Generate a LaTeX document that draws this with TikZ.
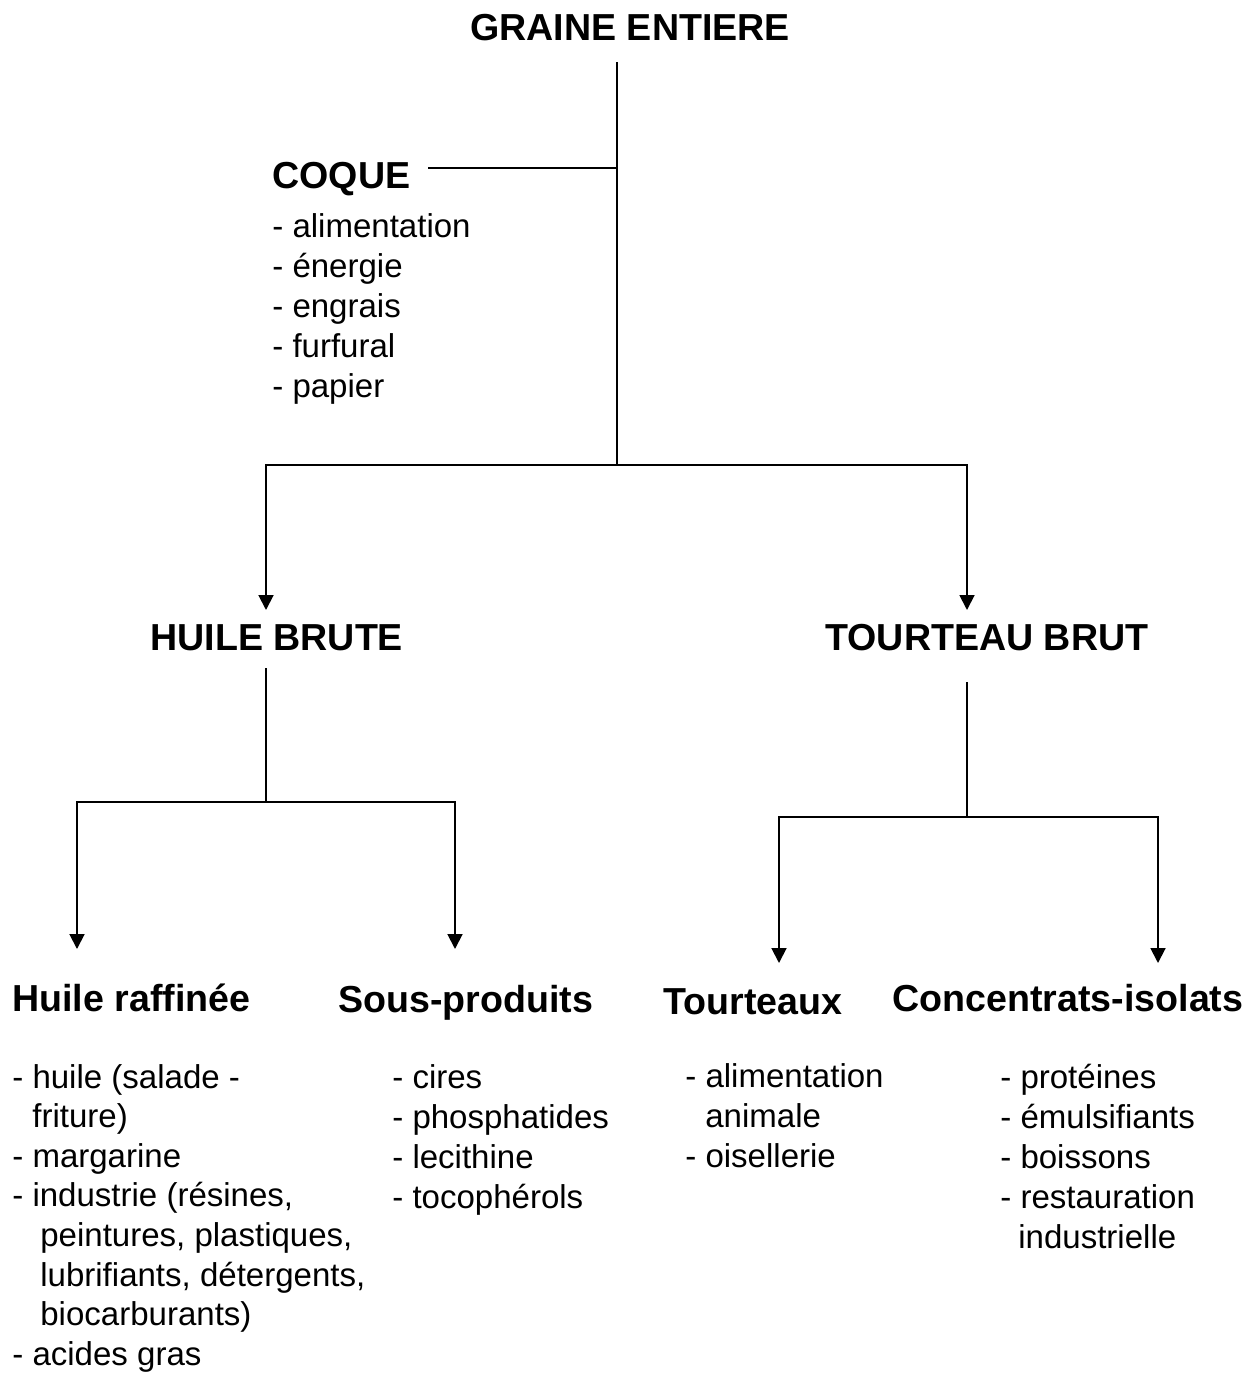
\documentclass[tikz,border=0pt]{standalone}
\usepackage{fontspec}
\setmainfont{Liberation Sans}
\usetikzlibrary{arrows.meta}

\begin{document}
\begin{tikzpicture}[x=0.02cm,y=-0.02cm,
	conn/.style={line width=1.1pt},
	arr/.style={conn,-{Triangle[length=8.5pt,width=8.5pt]}},
	head/.style={font=\fontsize{21.4}{25}\selectfont\bfseries,inner sep=0,anchor=base west},
	item/.style={font=\fontsize{18.8}{22.7}\selectfont,inner sep=0,anchor=base west}]
	\useasboundingbox (0,0) rectangle (1259,1373);
	% titres
	\node[head] (graine) at (470,40) {GRAINE ENTIERE};
	\node[head] (coque) at (272,188) {COQUE};
	\node[head] (hbrute) at (150,650) {HUILE BRUTE};
	\node[head] (tbrut) at (825,650) {TOURTEAU BRUT};
	\node[head] (hraff) at (12,1011) {Huile raffinée};
	\node[head] (sprod) at (338,1012) {Sous-produits};
	\node[head] (tourt) at (663,1014) {Tourteaux};
	\node[head] (conc) at (892,1011) {Concentrats-isolats};
	% listes
	\foreach \t [count=\i] in {alimentation,énergie,engrais,furfural,papier}{
		\node[item] (coque-\i) at (272,{237+40*(\i-1)}) {- \t};
	}
	\foreach \px/\t [count=\i] in {12/- huile (salade -,32/friture),12/- margarine,12/{- industrie (résines,},40/{peintures, plastiques,},40/{lubrifiants, détergents,},40/biocarburants),12/- acides gras}{
		\node[item] (hraff-\i) at (\px,{1088+39.6*(\i-1)}) {\t};
	}
	\foreach \t [count=\i] in {cires,phosphatides,lecithine,tocophérols}{
		\node[item] (sprod-\i) at (392,{1088+40*(\i-1)}) {- \t};
	}
	\foreach \px/\t [count=\i] in {685/- alimentation,705/animale,685/- oisellerie}{
		\node[item] (tourt-\i) at (\px,{1087+40*(\i-1)}) {\t};
	}
	\foreach \px/\t [count=\i] in {1000/- protéines,1000/- émulsifiants,1000/- boissons,1000/- restauration,1018/industrielle}{
		\node[item] (conc-\i) at (\px,{1088+40*(\i-1)}) {\t};
	}
	% liaisons
	\coordinate (g-top) at (617,62);
	\coordinate (g-bot) at (617,465);
	\coordinate (cq-end) at (428,168);
	\coordinate (hb-tip) at (266,610);
	\coordinate (tb-tip) at (967,610);
	\coordinate (hb-top) at (266,668);
	\coordinate (hb-bot) at (266,802);
	\coordinate (hr-tip) at (77,949);
	\coordinate (sp-tip) at (455,949);
	\coordinate (tb-top) at (967,682);
	\coordinate (tb-bot) at (967,817);
	\coordinate (tx-tip) at (779,963);
	\coordinate (ci-tip) at (1158,963);
	\draw[conn] (g-top) -- (g-bot);
	\draw[conn] (cq-end) -- (cq-end -| g-top);
	\draw[arr] (g-bot) -| (hb-tip);
	\draw[arr] (g-bot) -| (tb-tip);
	\draw[conn] (hb-top) -- (hb-bot);
	\draw[arr] (hb-bot) -| (hr-tip);
	\draw[arr] (hb-bot) -| (sp-tip);
	\draw[conn] (tb-top) -- (tb-bot);
	\draw[arr] (tb-bot) -| (tx-tip);
	\draw[arr] (tb-bot) -| (ci-tip);
\end{tikzpicture}
\end{document}
